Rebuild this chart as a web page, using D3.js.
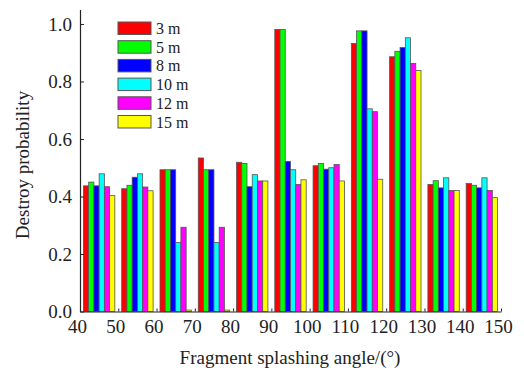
<!DOCTYPE html>
<html>
<head>
<meta charset="utf-8">
<script src="https://cdn.jsdelivr.net/npm/d3@7"></script>
<style>
  body { margin: 0; background: #fff; }
  text { font-family: "Liberation Serif", "Times New Roman", serif; fill: #222; }
</style>
</head>
<body>
<div id="chart"></div>
<script>
var w = 524;
var h = 370;

// angle groups (centre of each 10 degree bin)
var angles = [45, 55, 65, 75, 85, 95, 105, 115, 125, 135, 145];
var series = ["3 m", "5 m", "8 m", "10 m", "12 m", "15 m"];
var colors = ["#ff0000", "#00ff00", "#0000ff", "#00ffff", "#ff00ff", "#ffff00"];

var p3  = [0.437, 0.427, 0.493, 0.534, 0.519, 0.981, 0.507, 0.932, 0.886, 0.442, 0.445];
var p5  = [0.450, 0.439, 0.493, 0.493, 0.515, 0.981, 0.515, 0.976, 0.905, 0.455, 0.439];
var p8  = [0.437, 0.467, 0.493, 0.493, 0.434, 0.522, 0.495, 0.976, 0.918, 0.430, 0.430];
var p10 = [0.479, 0.479, 0.240, 0.240, 0.476, 0.493, 0.500, 0.705, 0.952, 0.465, 0.465];
var p12 = [0.434, 0.433, 0.293, 0.293, 0.454, 0.442, 0.511, 0.695, 0.863, 0.421, 0.421];
var p15 = [0.403, 0.420, 0.005, 0.005, 0.454, 0.458, 0.454, 0.460, 0.838, 0.421, 0.396];
var values = [p3, p5, p8, p10, p12, p15];

var xTicks = [40, 50, 60, 70, 80, 90, 100, 110, 120, 130, 140, 150];
var yTicks = [0, 0.2, 0.4, 0.6, 0.8, 1.0];

var svg = d3.select("#chart")
    .append("svg")
    .attr("width", w)
    .attr("height", h);

var x = d3.scaleLinear()
    .domain([40, 150])
    .range([80, 501]);

var y = d3.scaleLinear()
    .domain([0, 1.05])
    .range([311.5, 9.6]);

var xGroup = d3.scaleBand()
    .domain(angles)
    .range([80, 501])
    .paddingInner(0.18)
    .paddingOuter(0.09);

var xSub = d3.scaleBand()
    .domain(series)
    .range([0, xGroup.bandwidth()]);

// bars
var groups = svg.selectAll("g.grp")
    .data(angles)
    .enter()
    .append("g")
    .attr("class", "grp")
    .attr("transform", function(d) { return "translate(" + xGroup(d) + ",0)"; });

groups.selectAll("rect")
    .data(function(d, i) {
        return series.map(function(s, j) { return {s: s, j: j, v: values[j][i]}; });
    })
    .enter()
    .append("rect")
    .attr("x", function(d) { return xSub(d.s); })
    .attr("y", function(d) { return y(d.v); })
    .attr("width", xSub.bandwidth())
    .attr("height", function(d) { return y(0) - y(d.v); })
    .attr("fill", function(d) { return colors[d.j]; })
    .attr("stroke", "#555")
    .attr("stroke-width", 0.8);

// axes
var xAxis = d3.axisBottom(x)
    .tickValues(xTicks)
    .tickSizeInner(-3)
    .tickSizeOuter(0)
    .tickPadding(8);

var yAxis = d3.axisLeft(y)
    .tickValues(yTicks)
    .tickFormat(d3.format(".1f"))
    .tickSizeInner(-4)
    .tickSizeOuter(0)
    .tickPadding(8);

var gx = svg.append("g")
    .attr("transform", "translate(0," + y(0) + ")")
    .call(xAxis);

var gy = svg.append("g")
    .attr("transform", "translate(" + x(40) + ",0)")
    .call(yAxis);

[gx, gy].forEach(function(g) {
    g.selectAll("text").style("font-size", "19px").attr("fill", "#222");
    g.selectAll("line").attr("stroke", "#222");
    g.select(".domain").attr("stroke", "#222").attr("stroke-width", 1.2);
    g.attr("font-family", null);
});
gx.selectAll("text").attr("dx", -3);
gy.selectAll("text").attr("dy", "0.34em");

// axis titles
svg.append("text")
    .attr("x", 290)
    .attr("y", 364)
    .attr("text-anchor", "middle")
    .style("font-size", "19px")
    .text("Fragment splashing angle/(°)");

svg.append("text")
    .attr("transform", "translate(29,165) rotate(-90)")
    .attr("text-anchor", "middle")
    .style("font-size", "19px")
    .text("Destroy probability");

// legend
var legend = svg.append("g")
    .attr("transform", "translate(118,22)");

var item = legend.selectAll("g")
    .data(series)
    .enter()
    .append("g")
    .attr("transform", function(d, i) { return "translate(0," + (i * 18.7) + ")"; });

item.append("rect")
    .attr("width", 33)
    .attr("height", 12.5)
    .attr("fill", function(d, i) { return colors[i]; })
    .attr("stroke", "#555")
    .attr("stroke-width", 1);

item.append("text")
    .attr("x", 38)
    .attr("y", 12)
    .style("font-size", "16px")
    .text(function(d) { return d; });
</script>
</body>
</html>
